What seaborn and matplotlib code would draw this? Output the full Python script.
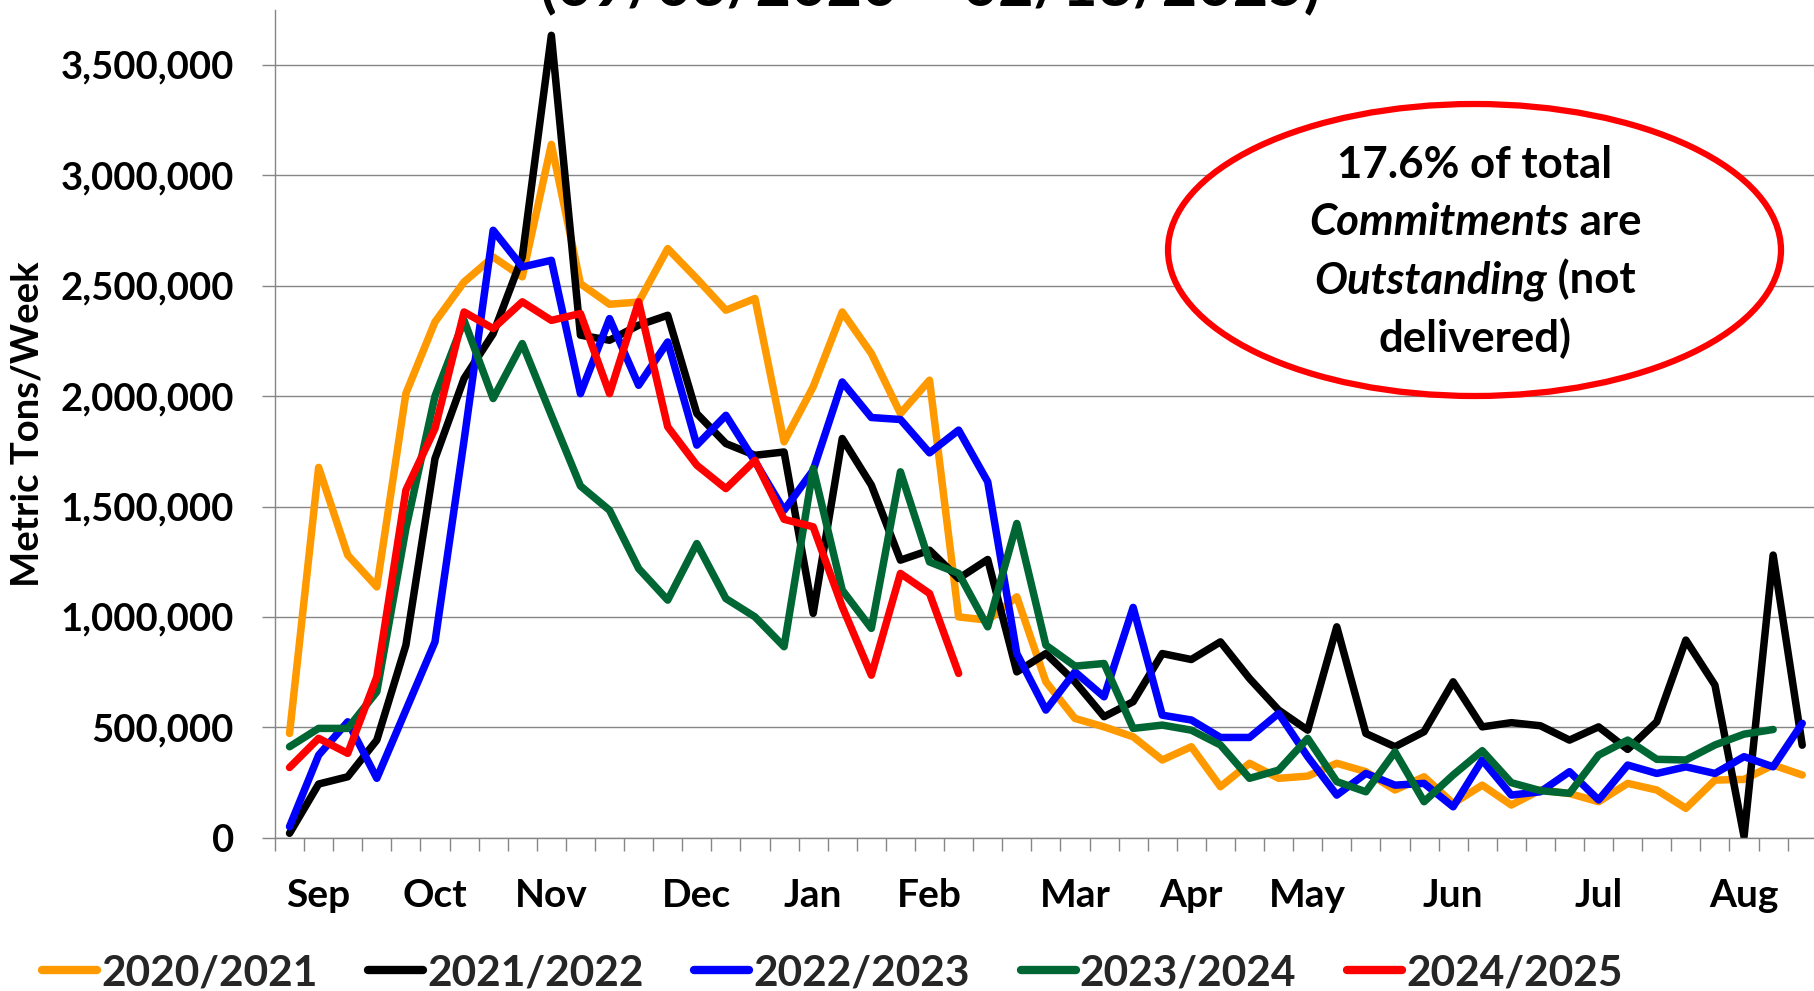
import numpy as np
import pandas as pd
import matplotlib
matplotlib.use("Agg")
import matplotlib.pyplot as plt
from matplotlib.lines import Line2D
from matplotlib.patches import Ellipse
from matplotlib.offsetbox import TextArea, HPacker, VPacker, AnnotationBbox
import seaborn as sns

# ---------------- data (metric tons / week) ----------------
seasons = ["2020/2021", "2021/2022", "2022/2023", "2023/2024", "2024/2025"]
colors = ["#FF9900", "#000000", "#0000FF", "#006633", "#FF0000"]

s2020 = [472, 1677, 1280, 1136, 2012, 2336, 2517, 2630, 2540, 3140, 2509, 2416, 2426, 2668,
         2532, 2389, 2442, 1793, 2042, 2381, 2193, 1921, 2072, 1000, 985, 1091, 706, 540,
         502, 457, 352, 412, 231, 337, 269, 279, 337, 299, 216, 276, 155, 238, 148, 216,
         200, 163, 246, 216, 133, 261, 264, 329, 284]
s2021 = [20, 243, 276, 442, 872, 1717, 2080, 2283, 2630, 3634, 2276, 2253, 2321, 2366,
         1921, 1785, 1732, 1747, 1016, 1808, 1597, 1257, 1302, 1174, 1260, 751, 834, 706,
         548, 616, 834, 807, 887, 721, 578, 487, 955, 472, 412, 480, 706, 502, 521, 507,
         442, 502, 400, 525, 895, 691, 5, 1280, 419]
s2022 = [50, 374, 525, 269, 578, 887, 1800, 2751, 2585, 2615, 2011, 2351, 2049, 2245,
         1778, 1913, 1704, 1483, 1664, 2064, 1903, 1894, 1743, 1846, 1612, 834, 578, 751,
         638, 1043, 555, 533, 454, 454, 563, 367, 193, 291, 238, 246, 140, 352, 193, 208,
         299, 171, 329, 291, 321, 291, 367, 321, 518]
s2023 = [412, 495, 495, 661, 1400, 2000, 2343, 1989, 2238, 1913, 1593, 1483, 1219, 1076,
         1332, 1083, 1000, 865, 1672, 1121, 948, 1657, 1249, 1197, 955, 1423, 872, 777,
         789, 495, 510, 487, 420, 269, 306, 450, 254, 208, 389, 163, 284, 394, 249, 213,
         201, 374, 442, 355, 352, 420, 469, 490]
s2024 = [318, 450, 382, 729, 1574, 1853, 2381, 2306, 2427, 2343, 2374, 2011, 2427, 1861,
         1687, 1581, 1709, 1442, 1408, 1046, 736, 1197, 1106, 744]

month_labels = ["Sep", "Oct", "Nov", "Dec", "Jan", "Feb", "Mar", "Apr", "May", "Jun", "Jul", "Aug"]
month_weeks = [1, 5, 9, 14, 18, 22, 27, 31, 35, 40, 45, 50]
n_weeks = 53

y_ticks = [0, 500000, 1000000, 1500000, 2000000, 2500000, 3000000, 3500000]

title_text = "(09/03/2020 \u2013 02/13/2025)"
note_lines = [[("17.6% of total", False)],
              [("Commitments", True), (" are", False)],
              [("Outstanding", True), (" (not", False)],
              [("delivered)", False)]]

# ---------------- build long table ----------------
series = [s2020, s2021, s2022, s2023, s2024]
rows = []
for name, vals in zip(seasons, series):
    for i, v in enumerate(vals):
        rows.append((name, i, v * 1000))
df = pd.DataFrame(rows, columns=["season", "week", "tons"])

# ---------------- figure ----------------
sns.set_theme(style="white")
plt.rcParams["font.family"] = ["Lato", "DejaVu Sans"]
plt.rcParams["font.weight"] = "bold"

W, H = 1814, 991
fig = plt.figure(figsize=(W / 100, H / 100), dpi=100)
fig.patch.set_facecolor("white")

ax_left, ax_right = 275, 275 + 53 * 29.09
ax_top, ax_bot = 9.7, 837.7
ax = fig.add_axes([ax_left / W, 1 - ax_bot / H, (ax_right - ax_left) / W, (ax_bot - ax_top) / H])
ax.set_facecolor("white")

pal = dict(zip(seasons, colors))
sns.lineplot(data=df, x="week", y="tons", hue="season", palette=pal, hue_order=seasons,
             linewidth=5.4, legend=False, ax=ax, estimator=None, sort=False)
for ln in ax.lines:
    ln.set_linewidth(5.4)
    ln.set_solid_capstyle("round")
    ln.set_solid_joinstyle("round")

gridc = "#868686"
ax.set_xlim(-0.5, n_weeks - 0.5)
ax.set_ylim(0, 3750000)
ax.set_yticks(y_ticks)
ax.set_yticklabels([f"{v:,}" for v in y_ticks])
ax.yaxis.grid(True, color=gridc, linewidth=1.0)
ax.xaxis.grid(False)
ax.set_axisbelow(True)

ax.set_xticks(month_weeks)
ax.set_xticklabels(month_labels)
ax.set_xticks(np.arange(-0.5, n_weeks, 1.0), minor=True)
ax.tick_params(axis="x", which="major", length=0, pad=29, labelsize=28)
ax.tick_params(axis="x", which="minor", length=9.5, width=1.0, color=gridc, direction="out", bottom=True)
ax.tick_params(axis="y", which="major", length=9.5, width=1.0, color=gridc, direction="out",
               pad=20, labelsize=27.5, left=True)
for lab in ax.get_xticklabels() + ax.get_yticklabels():
    lab.set_fontweight("bold")
    lab.set_color("black")

for s in ["top", "right"]:
    ax.spines[s].set_visible(False)
for s in ["left", "bottom"]:
    ax.spines[s].set_color(gridc)
    ax.spines[s].set_linewidth(1.0)

ax.set_xlabel("")
ax.set_ylabel("Metric Tons/Week", fontsize=27.5, fontweight="bold", color="black")
ax.yaxis.set_label_coords((45 - ax_left) / (ax_right - ax_left), 0.5)

# title (only lower part visible, as in the reference)
fig.text(930 / W, 1 - 5 / H, title_text, ha="center", va="baseline",
         fontsize=44, fontweight="bold", color="black")

# ellipse annotation
ell = Ellipse((1474.5 / W, 1 - 250 / H), 613 / W, 292 / H, transform=fig.transFigure,
              facecolor="white", edgecolor="#FF0000", linewidth=4.5, zorder=5)
fig.add_artist(ell)

line_boxes = []
for segs in note_lines:
    kids = [TextArea(t, textprops=dict(fontsize=31.5, fontweight="bold",
                                       fontstyle="italic" if it else "normal", color="black"))
            for t, it in segs]
    line_boxes.append(HPacker(children=kids, pad=0, sep=0, align="baseline"))
vbox = VPacker(children=line_boxes, align="center", pad=0, sep=12)
ab = AnnotationBbox(vbox, (1475 / W, 1 - 252 / H), xycoords="figure fraction",
                    frameon=False, box_alignment=(0.5, 0.5), zorder=6)
fig.add_artist(ab)

# legend
handles = [Line2D([0], [0], color=c, linewidth=6, solid_capstyle="round") for c in colors]
fig.legend(handles, seasons, loc="center left", bbox_to_anchor=(42 / W, 1 - 973 / H),
           ncol=5, frameon=False, prop=dict(size=30.5, weight="bold"),
           handlelength=1.3, handletextpad=0.1, columnspacing=1.19,
           borderpad=0, borderaxespad=0)

fig.savefig("out.png", dpi=100, facecolor="white")
